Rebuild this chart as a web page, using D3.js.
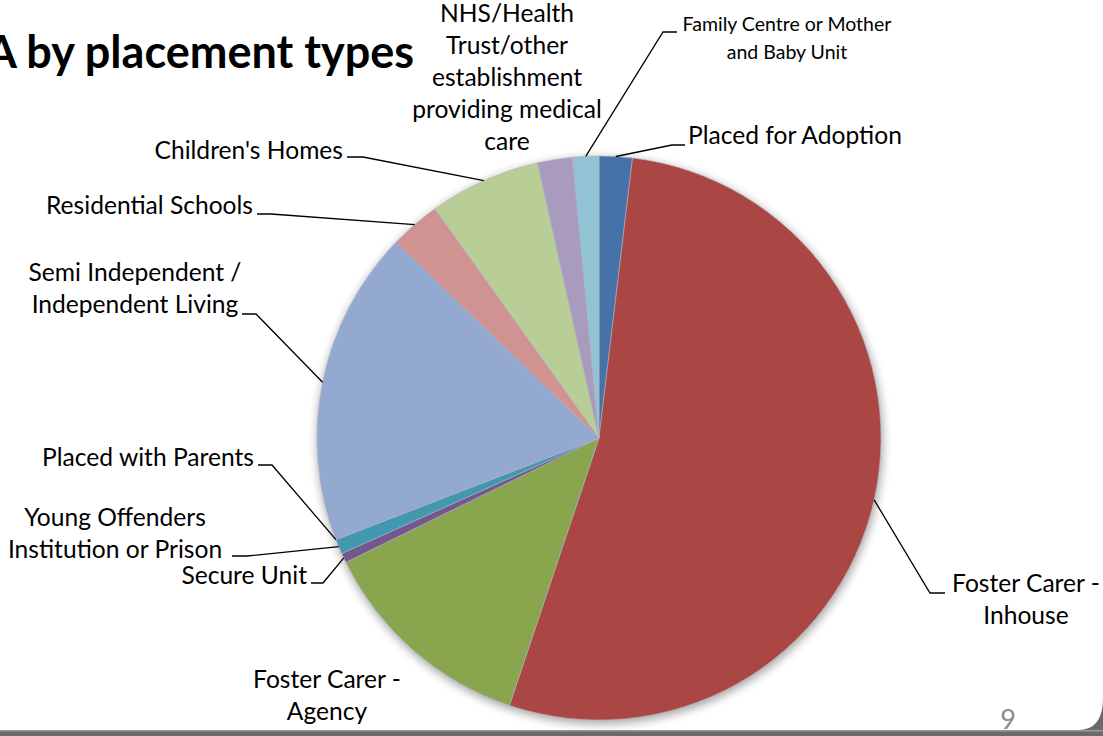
<!DOCTYPE html>
<html>
<head>
<meta charset="utf-8">
<script src="https://cdn.jsdelivr.net/npm/d3@7"></script>
<style>
  html, body { margin: 0; padding: 0; background: #fff; }
  svg { display: block; }
  .lbl { font-family: Lato, "Open Sans", sans-serif; fill: #000; }
</style>
</head>
<body>
<svg id="chart" width="1103" height="736"></svg>
<script>
// placement types, clockwise from 12 o'clock
var categories = ["Placed for Adoption", "Foster Carer - Inhouse", "Foster Carer - Agency",
  "Secure Unit", "Young Offenders Institution or Prison", "Placed with Parents",
  "Semi Independent / Independent Living", "Residential Schools", "Children's Homes",
  "NHS/Health Trust/other establishment providing medical care", "Family Centre or Mother and Baby Unit"];
// share of placements (%)
var values = [1.9, 53.3, 12.6, 0.55, 0.85, 0, 18.1, 2.9, 6.4, 2.0, 1.5];
var colors = ["#4572A7", "#AA4643", "#89A54E", "#71588F", "#4198AF", "#DB843D",
  "#93A9CF", "#D19392", "#B9CD96", "#A99BBD", "#92C3D4"];

// label layout (text lines, anchor point, elbow of the leader line)
var labelLayout = [
  {lines: ["Placed for Adoption"], x: 688, y: 144, anchor: "start", elbow: [[672,145],[685,145]]},
  {lines: ["Foster Carer -", "Inhouse"], x: 1026, y: 592, anchor: "middle", elbow: [[930,593],[945,593]]},
  {lines: ["Foster Carer -", "Agency"], x: 327, y: 688, anchor: "middle", elbow: null},
  {lines: ["Secure Unit"], x: 307, y: 584, anchor: "end", elbow: [[323,583],[311,583]]},
  {lines: ["Young Offenders", "Institution or Prison"], x: 115, y: 526, anchor: "middle", elbow: [[247,556],[232,556]]},
  {lines: ["Placed with Parents"], x: 254, y: 466, anchor: "end", elbow: [[272,465],[258,465]]},
  {lines: ["Semi Independent /", "Independent Living"], x: 135, y: 281, anchor: "middle", elbow: [[256,314],[242,314]]},
  {lines: ["Residential Schools"], x: 253, y: 214, anchor: "end", elbow: [[271,214],[257,214]]},
  {lines: ["Children's Homes"], x: 343, y: 159, anchor: "end", elbow: [[363,157],[347,157]]},
  {lines: ["NHS/Health", "Trust/other", "establishment", "providing medical", "care"], x: 507, y: 22, anchor: "middle", elbow: null},
  {lines: ["Family Centre or Mother", "and Baby Unit"], x: 787, y: 31, anchor: "middle", size: 19.5, lh: 28, elbow: [[663,32],[677,32]]}
];

var W = 1103, H = 736;
var cx = 599, cy = 438, R = 282;
var svg = d3.select("#chart");

// slide frame: dark band at the bottom, rounded corner on the right
svg.append("rect").attr("x", 0).attr("y", 730).attr("width", W).attr("height", 6).attr("fill", "#6a6a6a");
svg.append("rect").attr("x", 0).attr("y", 730).attr("width", W).attr("height", 1.5).attr("fill", "#9a9a9a");
svg.append("path")
  .attr("d", "M1103,698 Q1103,730 1078,730 L1103,730 Z")
  .attr("fill", "#6a6a6a");

// title
svg.append("text").attr("class", "lbl")
  .attr("x", 414).attr("y", 68)
  .attr("text-anchor", "end")
  .style("font-size", "45px").style("font-weight", "bold")
  .text("A by placement types");

// page number
svg.append("text").attr("class", "lbl")
  .attr("x", 1008).attr("y", 729)
  .attr("text-anchor", "middle")
  .style("font-size", "27px").style("fill", "#8a8a8a")
  .text("9");

var defs = svg.append("defs");
var f = defs.append("filter").attr("id", "shadow")
  .attr("x", "-20%").attr("y", "-20%").attr("width", "140%").attr("height", "140%");
f.append("feGaussianBlur").attr("stdDeviation", 5);

var g = svg.append("g").attr("transform", "translate(" + cx + "," + cy + ")");

g.append("circle").attr("cx", 1).attr("cy", 3).attr("r", R + 1)
  .attr("fill", "#000").attr("opacity", 0.35)
  .attr("filter", "url(#shadow)");

var pie = d3.pie().sort(null).value(function(d){ return d; });
var arcs = pie(values);
var arc = d3.arc().innerRadius(0).outerRadius(R);
var edge = d3.arc().innerRadius(R).outerRadius(R);

g.selectAll("path.slice").data(arcs).enter().append("path")
  .attr("class", "slice")
  .attr("d", arc)
  .attr("fill", function(d, i){ return colors[i]; })
  .attr("stroke", function(d){ return d.value > 0 ? "#b4b4c4" : "none"; })
  .attr("stroke-width", 0.6);

// leader lines
arcs.forEach(function(d, i){
  var L = labelLayout[i];
  if (!L.elbow) return;
  var p = edge.centroid(d);
  var pts = [[cx + p[0], cy + p[1]]].concat(L.elbow);
  svg.append("path")
    .attr("d", d3.line()(pts))
    .attr("fill", "none").attr("stroke", "#000").attr("stroke-width", 1.3);
});

// labels
labelLayout.forEach(function(L){
  var lh = L.lh || 32;
  var t = svg.append("text").attr("class", "lbl")
    .attr("text-anchor", L.anchor)
    .style("font-size", (L.size || 24.6) + "px");
  L.lines.forEach(function(s, k){
    t.append("tspan").attr("x", L.x).attr("y", L.y + k * lh).text(s);
  });
});
</script>
</body>
</html>
